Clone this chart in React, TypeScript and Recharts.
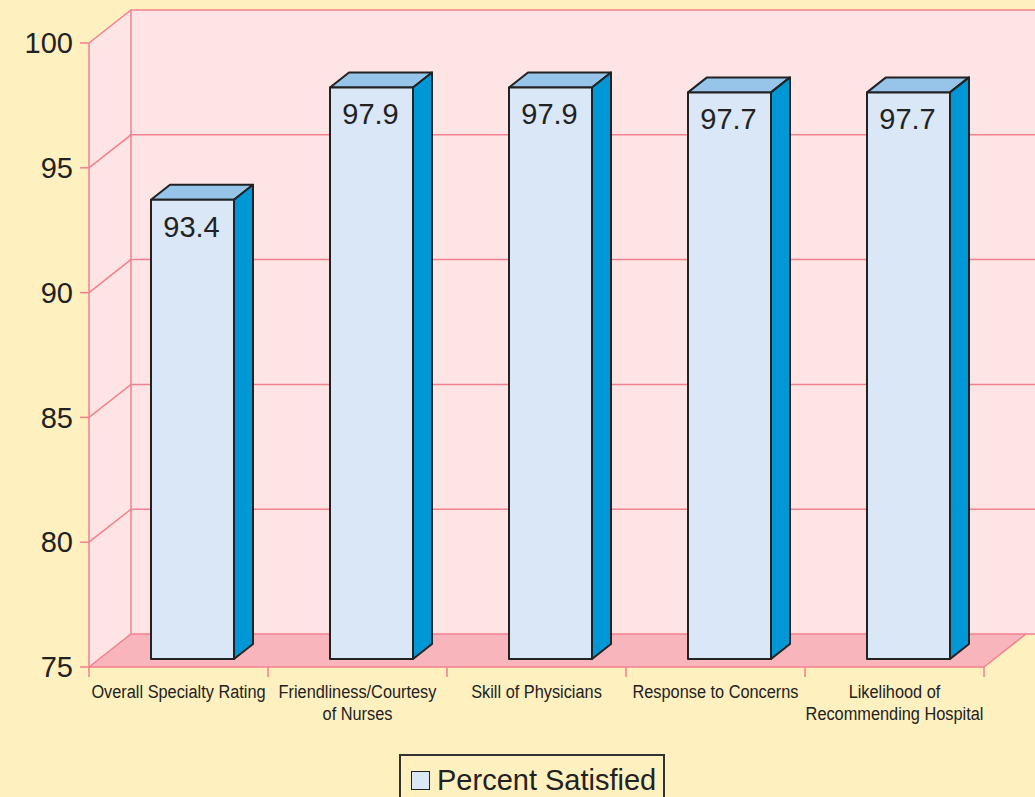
import React from 'react';
import {
  BarChart,
  Bar,
  XAxis,
  YAxis,
  CartesianGrid,
  ReferenceArea,
  Legend,
  LabelList,
} from 'recharts';

const categories = [
  'Overall Specialty Rating',
  'Friendliness/Courtesy\nof Nurses',
  'Skill of Physicians',
  'Response to Concerns',
  'Likelihood of\nRecommending Hospital',
];
const percentSatisfied = [93.4, 97.9, 97.9, 97.7, 97.7];
const yTicks = [75, 80, 85, 90, 95, 100];

const data = categories.map((category, i) => ({ category, value: percentSatisfied[i] }));

const PAGE_BG = '#fff0c0';
const WALL = '#fee4e4';
const FLOOR = '#f8b6bc';
const LINE = '#f2808f';
const INK = '#222222';
const FONT = '"Liberation Sans", Arial, sans-serif';

// depth of the box walls, and of each bar
const DX = 42;
const DY = -33;
const BAR_SX = 14;
const BAR_SY = -8;
const BAR_DX = 19;
const BAR_DY = -15;

function Walls(props: any) {
  const { x, y, width, height } = props;
  const right = x + width + DX + 30;
  const bottom = y + height;
  return (
    <g>
      <rect x={x + DX} y={y + DY} width={right - x - DX} height={height} fill={WALL} />
      <polygon
        points={`${x},${y} ${x + DX},${y + DY} ${x + DX},${bottom + DY} ${x},${bottom}`}
        fill={WALL}
      />
      <polygon
        points={`${x},${bottom} ${x + DX},${bottom + DY} ${x + width + DX},${bottom + DY} ${x + width},${bottom}`}
        fill={FLOOR}
      />
      <line x1={x + DX} y1={y + DY} x2={x + DX} y2={bottom + DY} stroke={LINE} strokeWidth={1.5} />
      <line x1={x + width} y1={bottom} x2={x + width + DX} y2={bottom + DY} stroke={LINE} strokeWidth={1.5} />
    </g>
  );
}

function GridLine(props: any) {
  const { x1, y1, x2 } = props;
  return (
    <path
      d={`M${x1},${y1} L${x1 + DX},${y1 + DY} L${x2 + DX + 30},${y1 + DY}`}
      fill="none"
      stroke={LINE}
      strokeWidth={1.5}
    />
  );
}

function Box3D(props: any) {
  const { x, y, width, height } = props;
  if (height == null || height <= 0) return null;
  const fx = x + BAR_SX;
  const fy = y + BAR_SY;
  return (
    <g stroke={INK} strokeWidth={2} strokeLinejoin="round">
      <polygon
        points={`${fx},${fy} ${fx + BAR_DX},${fy + BAR_DY} ${fx + width + BAR_DX},${fy + BAR_DY} ${fx + width},${fy}`}
        fill="#97c5ea"
      />
      <polygon
        points={`${fx + width},${fy} ${fx + width + BAR_DX},${fy + BAR_DY} ${fx + width + BAR_DX},${fy + height + BAR_DY} ${fx + width},${fy + height}`}
        fill="#0097d6"
      />
      <rect x={fx} y={fy} width={width} height={height} fill="#d9e7f7" />
    </g>
  );
}

function ValueLabel(props: any) {
  const { x, y, width, value } = props;
  return (
    <text
      x={x + BAR_SX + width / 2 - 1}
      y={y + BAR_SY + 37}
      textAnchor="middle"
      fontSize={29}
      fontFamily={FONT}
      fill={INK}
    >
      {value}
    </text>
  );
}

function CategoryTick(props: any) {
  const { x, y, payload, width, index } = props;
  const lines = String(payload.value).split('\n');
  const half = payload.offset ? payload.offset : width / (2 * categories.length);
  return (
    <g>
      <line x1={x - half} y1={y - 10} x2={x - half} y2={y} stroke={LINE} strokeWidth={1.5} />
      {index === categories.length - 1 && (
        <line x1={x + half} y1={y - 10} x2={x + half} y2={y} stroke={LINE} strokeWidth={1.5} />
      )}
      {/* condensed look: no narrow face installed, so squeeze a regular one */}
      <g transform={`translate(${x},${y}) scale(0.86,1)`}>
        <text x={0} y={0} textAnchor="middle" fontSize={19} fontFamily={FONT} fill={INK}>
          {lines.map((line, i) => (
            <tspan key={i} x={0} dy={i === 0 ? 21 : 22}>
              {line}
            </tspan>
          ))}
        </text>
      </g>
    </g>
  );
}

function LegendBox() {
  return (
    <div
      style={{
        width: 262,
        height: 48,
        border: `2px solid #333`,
        display: 'flex',
        alignItems: 'center',
        fontFamily: FONT,
        fontSize: 29,
        color: INK,
        boxSizing: 'content-box',
      }}
    >
      <span
        style={{
          display: 'inline-block',
          width: 17,
          height: 17,
          background: '#d9e7f7',
          border: `1.5px solid ${INK}`,
          marginLeft: 10,
          marginRight: 7,
        }}
      />
      <span>Percent Satisfied</span>
    </div>
  );
}

export default function App() {
  return (
    <div
      style={{
        position: 'absolute',
        left: 0,
        top: 0,
        width: 1035,
        height: 797,
        background: PAGE_BG,
        overflow: 'hidden',
      }}
    >
      <BarChart
        width={1035}
        height={797}
        data={data}
        margin={{ top: 43, right: 51, left: 0, bottom: 18 }}
      >
        <ReferenceArea y1={75} y2={100} shape={<Walls />} fill={WALL} zIndex={-300} />
        <CartesianGrid horizontal={<GridLine />} vertical={false} zIndex={-200} />
        <XAxis
          dataKey="category"
          interval={0}
          height={60}
          tickLine={false}
          tickSize={10}
          tickMargin={0}
          axisLine={{ stroke: LINE, strokeWidth: 1.5 }}
          tick={<CategoryTick />}
        />
        <YAxis
          domain={[75, 100]}
          ticks={yTicks}
          width={89}
          tickSize={9}
          tickMargin={7}
          allowDataOverflow
          tickLine={{ stroke: LINE, strokeWidth: 1.5 }}
          axisLine={{ stroke: LINE, strokeWidth: 1.5 }}
          tick={{ fontSize: 29, fontFamily: FONT, fill: INK }}
        />
        <Legend
          content={<LegendBox />}
          wrapperStyle={{ top: 754, left: 399, width: 'auto' }}
        />
        <Bar
          dataKey="value"
          name="Percent Satisfied"
          barSize={83}
          shape={<Box3D />}
          isAnimationActive={false}
        >
          <LabelList dataKey="value" content={<ValueLabel />} />
        </Bar>
      </BarChart>
    </div>
  );
}
